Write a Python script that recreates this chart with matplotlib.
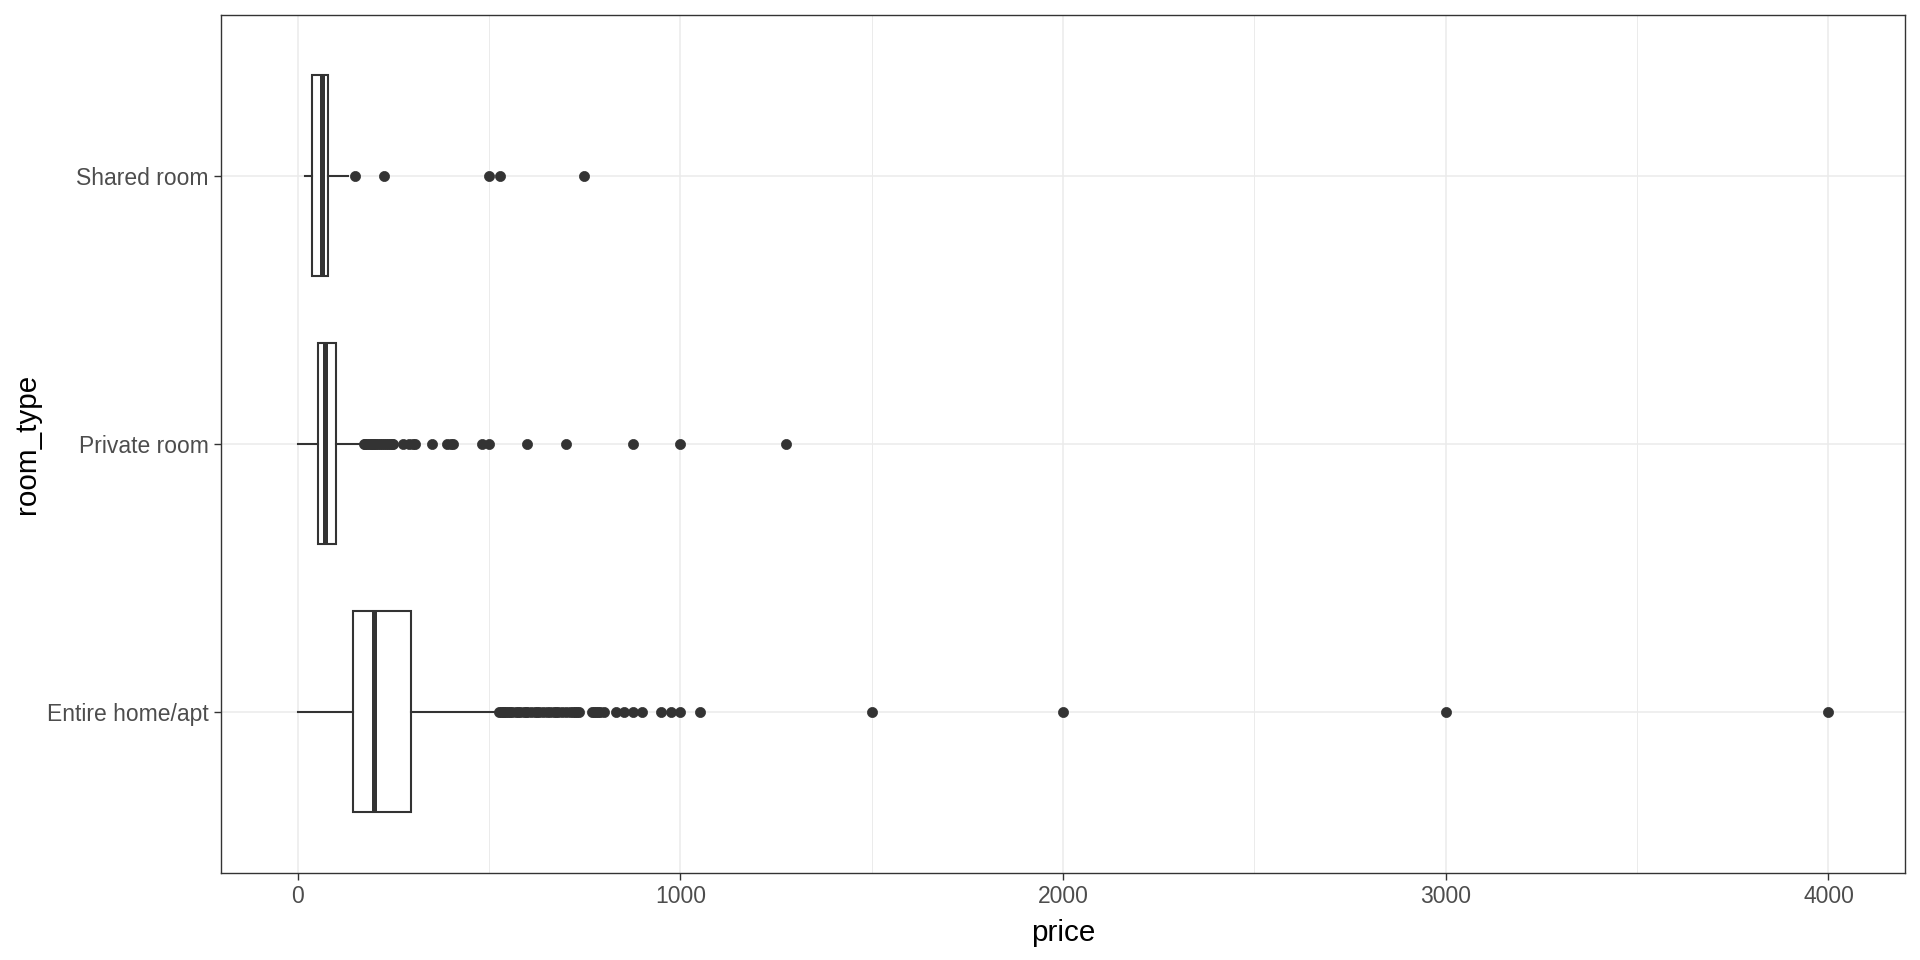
import matplotlib
matplotlib.use("Agg")
import matplotlib.pyplot as plt
from matplotlib.ticker import MultipleLocator

# ---- data ----
room_types = ["Entire home/apt", "Private room", "Shared room"]
q1 = [145, 53, 36]
median = [200, 71, 64]
q3 = [295, 100, 80]
whisker_low = [0, 0, 19]
whisker_high = [513, 165, 130]

outliers_entire = [525, 530, 535, 540, 545, 550, 555, 560, 570, 575, 580, 590, 595,
                   600, 610, 620, 625, 630, 640, 650, 660, 670, 675, 680, 690, 700,
                   710, 720, 725, 730, 735, 770, 775, 780, 785, 790, 799,
                   831, 853, 875, 900, 950, 975, 1000, 1050, 1500, 2000, 3000, 4000]
outliers_private = [172, 175, 180, 185, 190, 195, 199, 200, 205, 210, 215, 220, 225, 230,
                    235, 240, 245, 250, 275, 290, 300, 306, 350, 390, 400, 405,
                    480, 499, 600, 700, 875, 1000, 1275]
outliers_shared = [150, 224, 500, 529, 749]
outliers = [outliers_entire, outliers_private, outliers_shared]

x_ticks = [0, 1000, 2000, 3000, 4000]

plt.rcParams['font.family'] = ['Liberation Sans', 'DejaVu Sans']

fig = plt.figure(figsize=(19.2, 9.6), dpi=100)
ax = fig.add_axes([221.3 / 1920, 1 - 872.7 / 960, (1905 - 221.3) / 1920, (872.7 - 14.7) / 960])

stats = []
for i, name in enumerate(room_types):
    stats.append(dict(label=name, med=median[i], q1=q1[i], q3=q3[i],
                      whislo=whisker_low[i], whishi=whisker_high[i],
                      fliers=outliers[i]))

dark = "#333333"
ax.bxp(stats, positions=[1, 2, 3], vert=False, widths=0.75, showcaps=False,
       patch_artist=True,
       boxprops=dict(facecolor="white", edgecolor=dark, linewidth=1.5),
       whiskerprops=dict(color=dark, linewidth=1.5),
       medianprops=dict(color=dark, linewidth=3.6, solid_capstyle="butt"),
       flierprops=dict(marker="o", markersize=7.3, markerfacecolor=dark,
                       markeredgecolor=dark, markeredgewidth=0.5, linestyle="none"),
       zorder=3)

ax.set_xlim(-200, 4200)
ax.set_ylim(0.4, 3.6)
ax.set_xticks(x_ticks)
ax.set_xticklabels([str(t) for t in x_ticks])
ax.xaxis.set_minor_locator(MultipleLocator(500))
ax.set_yticks([1, 2, 3])
ax.set_yticklabels(room_types)

ax.set_axisbelow(True)
ax.grid(True, which="major", color="#EBEBEB", linewidth=1.1, zorder=0)
ax.grid(True, which="minor", axis="x", color="#EBEBEB", linewidth=0.7, zorder=0)

for sp in ax.spines.values():
    sp.set_color(dark)
    sp.set_linewidth(1.0)

ax.tick_params(axis="both", which="major", length=5.2, width=1.0, color=dark,
               labelsize=16.5, labelcolor="#4D4D4D", pad=3.8)
ax.tick_params(axis="x", which="minor", length=0)

ax.set_xlabel("price", fontsize=21.3, color="black", labelpad=8)
ax.set_ylabel("room_type", fontsize=21.3, color="black", labelpad=4)

fig.savefig("out.png", dpi=100, facecolor="white")
